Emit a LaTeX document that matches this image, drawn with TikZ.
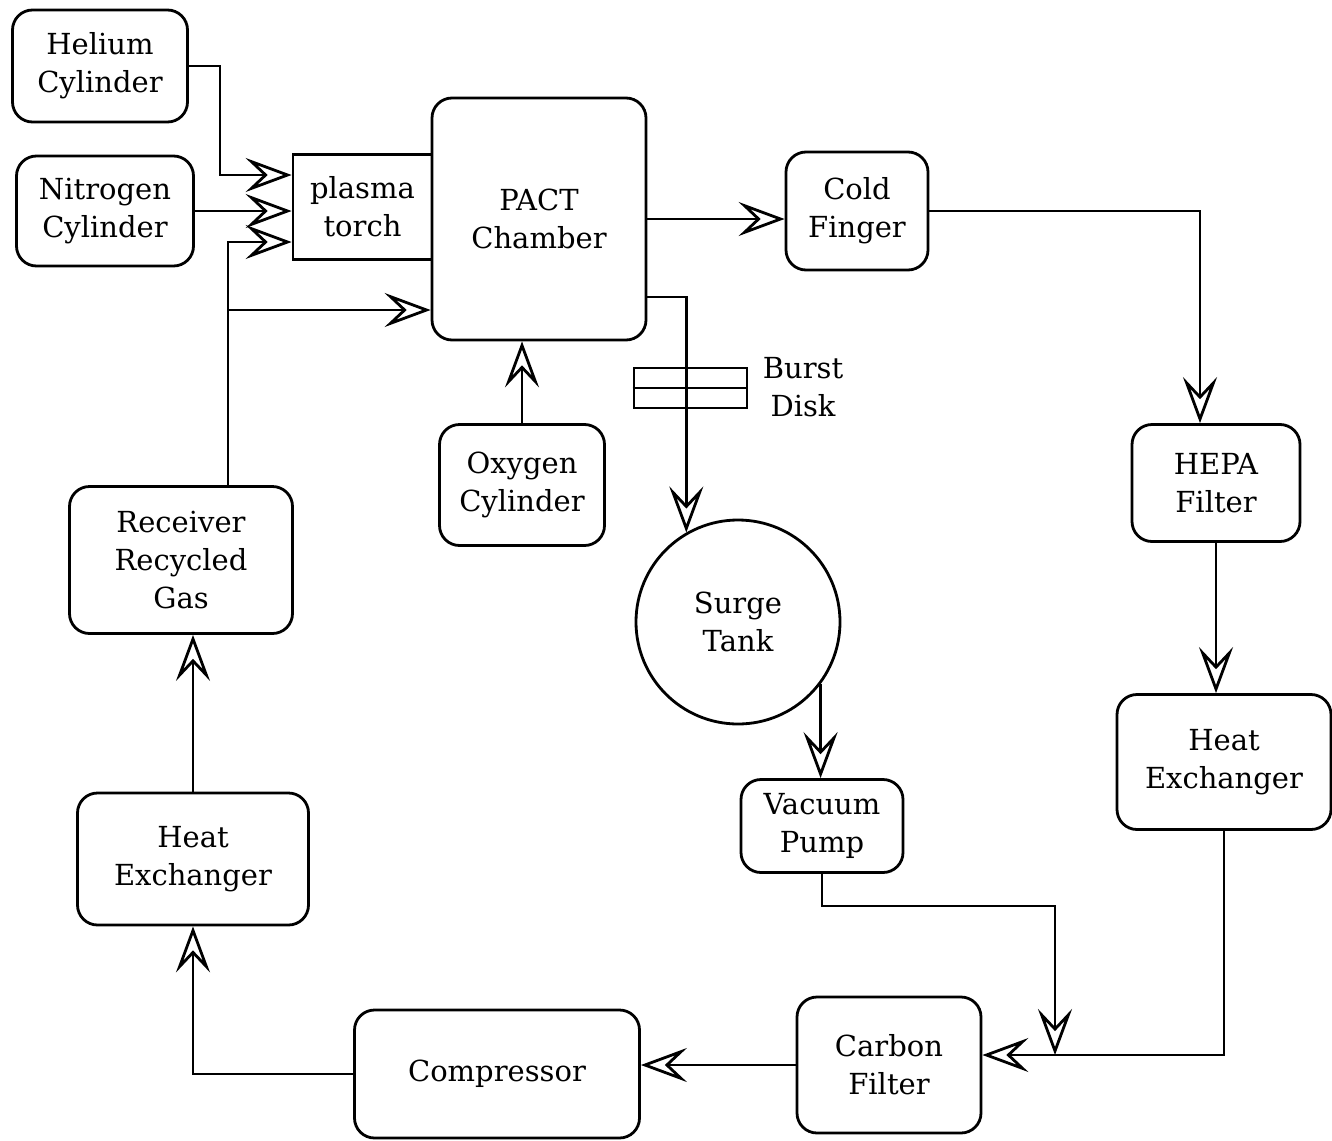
\documentclass[tikz,border=0pt]{standalone}
\usepackage{fontspec}
\setmainfont{DejaVu Serif}
\usetikzlibrary{arrows.meta,calc}
\begin{document}
\begin{tikzpicture}[x=0.5pt,y=-0.5pt,
  every node/.style={font=\fontsize{14.5}{19}\selectfont, align=center},
  unit/.style={draw, line width=1.4pt, rounded corners=10pt, inner sep=0pt},
  plainbox/.style={draw, line width=1.4pt, inner sep=0pt},
  flow/.style={draw, line width=1.4pt,
    -{Stealth[open, length=23pt, width=17pt, inset=9pt]}}]
\useasboundingbox (0,0) rectangle (1332,1140);

% equipment
\node[unit, minimum width=87.5pt, minimum height=56pt] (helium) at (100,66) {Helium\\Cylinder};
\node[unit, minimum width=88.5pt, minimum height=55pt] (nitrogen) at (105,211) {Nitrogen\\Cylinder};
\node[plainbox, minimum width=69.5pt, minimum height=52.5pt] (torch) at (362.5,207) {plasma\\torch};
\node[unit, minimum width=107pt, minimum height=121pt] (pact) at (539,219) {PACT\\Chamber};
\node[unit, minimum width=71pt, minimum height=59pt] (cold) at (857,211) {Cold\\Finger};
\node[unit, minimum width=84pt, minimum height=58.5pt] (hepa) at (1216,483) {HEPA\\Filter};
\node[unit, minimum width=107pt, minimum height=67.5pt] (hxr) at (1224,762) {Heat\\Exchanger};
\node[unit, minimum width=82.5pt, minimum height=60.5pt] (oxygen) at (522,485) {Oxygen\\Cylinder};
\node[draw, line width=1.4pt, circle, minimum size=102pt, inner sep=0pt] (surge) at (738,622) {Surge\\Tank};
\node[unit, minimum width=81pt, minimum height=46.5pt] (vacuum) at (822,826) {Vacuum\\Pump};
\node[unit, minimum width=92pt, minimum height=68pt] (carbon) at (889,1065) {Carbon\\Filter};
\node[unit, minimum width=142.5pt, minimum height=64pt] (compressor) at (497,1074) {Compressor};
\node[unit, minimum width=115.5pt, minimum height=66pt] (hxl) at (193,859) {Heat\\Exchanger};
\node[unit, minimum width=111.5pt, minimum height=73.5pt] (receiver) at (181,560) {Receiver\\Recycled\\Gas};

% burst disk on the surge line
\node[plainbox, minimum width=56.5pt, minimum height=20pt] (disk) at (690.5,388) {};
\draw[line width=1.4pt] (disk.west) -- (disk.east);
\node (disklabel) at (803,387) {Burst\\Disk};

% feed gases to the torch
\draw[flow] (helium.east) -- ++(31,0) |- ($(torch.west)+(0,-32)$);
\draw[flow] (nitrogen.east) -- (nitrogen.east -| torch.west);
\coordinate (rtop) at ($(receiver.north)+(47,0)$);
\coordinate (rjoin) at (228,310);
\draw[flow] (rtop) |- ($(torch.west)+(0,35)$);
\draw[flow] (rjoin) -- (rjoin -| pact.west);
\draw[flow] (oxygen.north) -- (oxygen.north |- pact.south);

% off-gas train
\draw[flow] (pact.east) -- (pact.east -| cold.west);
\draw[flow] (cold.east) -| ($(hepa.north)+(-16,0)$);
\draw[flow] (hepa.south) -- (hepa.south |- hxr.north);
\draw[flow] (hxr.south) |- ($(carbon.east)+(0,-10)$);

% surge tank branch
\draw[flow] ($(pact.east)+(0,78)$) -| (surge.120);
\draw[flow] (surge.-37) -- (surge.-37 |- vacuum.north);
\coordinate (join) at (1055,1055);
\draw[flow] (vacuum.south) -- ++(0,32) -| (join);

% recycle loop
\draw[flow] (carbon.west) -- (carbon.west -| compressor.east);
\draw[flow] (compressor.west) -| (hxl.south);
\draw[flow] (hxl.north) -- (hxl.north |- receiver.south);
\end{tikzpicture}
\end{document}
